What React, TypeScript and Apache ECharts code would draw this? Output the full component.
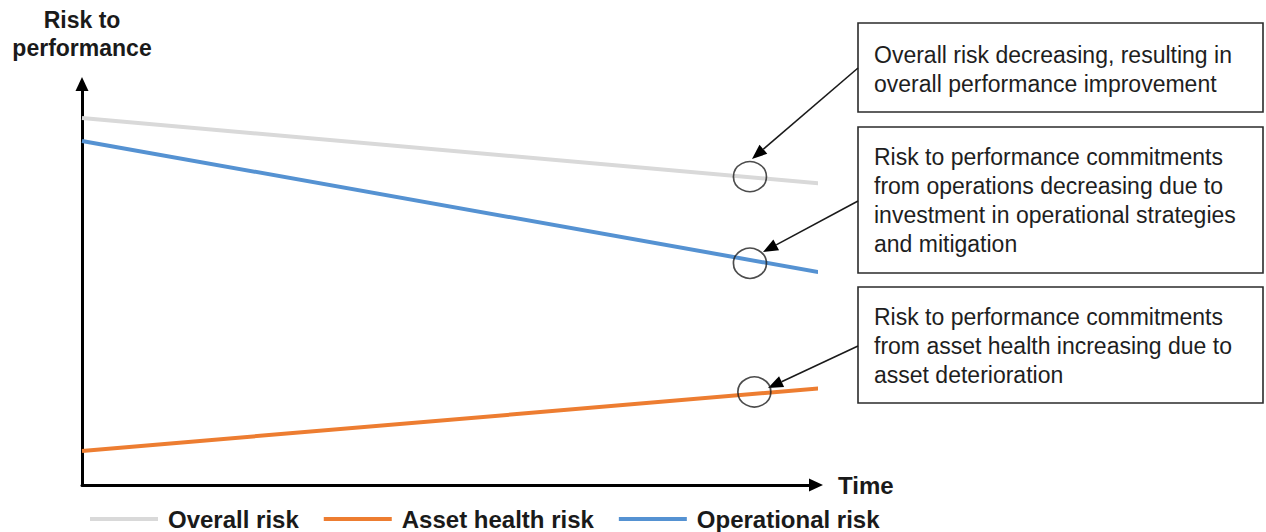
import React, { useEffect, useRef } from "react";
import * as echarts from "echarts";

const seriesNames = ["Overall risk", "Asset health risk", "Operational risk"];
const seriesColors = ["#d9d9d9", "#ed7d31", "#5592d2"];
// [time, risk] pairs
const overallRisk = [[0, 91.5], [10.12, 75.1]];
const assetHealthRisk = [[0, 8.5], [10.12, 24.2]];
const operationalRisk = [[0, 85.8], [10.03, 53.1]];

// highlighted points on each line
const circleX = [9.1, 9.1, 9.16];
const circleY = [76.9, 55.3, 23.2];

const notes = [
  "Overall risk decreasing, resulting in\noverall performance improvement",
  "Risk to performance commitments\nfrom operations decreasing due to\ninvestment in operational strategies\nand mitigation",
  "Risk to performance commitments\nfrom asset health increasing due to\nasset deterioration",
];

const FONT = '"Liberation Sans", Arial, Helvetica, sans-serif';

function arrow(x1: number, y1: number, x2: number, y2: number) {
  const dx = x2 - x1;
  const dy = y2 - y1;
  const len = Math.sqrt(dx * dx + dy * dy);
  const ux = dx / len;
  const uy = dy / len;
  const L = 15;
  const W = 12;
  const bx = x2 - ux * L;
  const by = y2 - uy * L;
  const nx = -uy;
  const ny = ux;
  return [
    {
      type: "line",
      shape: { x1, y1, x2: bx, y2: by },
      style: { stroke: "#1a1a1a", lineWidth: 1.6 },
      silent: true,
    },
    {
      type: "polygon",
      shape: {
        points: [
          [x2, y2],
          [bx + (nx * W) / 2, by + (ny * W) / 2],
          [bx - (nx * W) / 2, by - (ny * W) / 2],
        ],
      },
      style: { fill: "#000" },
      silent: true,
    },
  ];
}

function box(x: number, y: number, w: number, h: number, text: string, textTop: number) {
  return [
    {
      type: "rect",
      shape: { x, y, width: w, height: h },
      style: { fill: "#fff", stroke: "#2b2b2b", lineWidth: 1.6 },
      silent: true,
    },
    {
      type: "text",
      x: x + 16,
      y: textTop,
      style: {
        text,
        fontFamily: FONT,
        fontSize: 23,
        lineHeight: 29,
        fill: "#1e1e1e",
        verticalAlign: "top",
        align: "left",
      },
      silent: true,
    },
  ];
}

export default function App() {
  const ref = useRef<HTMLDivElement>(null);
  useEffect(() => {
    if (!ref.current) return;
    const chart = echarts.init(ref.current, undefined, { renderer: "svg" });
    const datasets = [overallRisk, assetHealthRisk, operationalRisk];
    const option: any = {
      animation: false,
      backgroundColor: "#fff",
      textStyle: { fontFamily: FONT },
      grid: { left: 82, right: 450, top: 84, bottom: 47 },
      legend: {
        data: seriesNames,
        left: 85,
        top: 502,
        icon: "rect",
        itemWidth: 68,
        itemHeight: 4,
        itemGap: 25,
        textStyle: {
          fontFamily: FONT,
          fontSize: 24,
          fontWeight: "bold",
          color: "#1a1a1a",
          padding: [0, 0, 0, 5],
        },
      },
      xAxis: {
        type: "value",
        min: 0,
        max: 10,
        name: "Time",
        nameLocation: "end",
        nameGap: 22,
        nameTextStyle: { fontFamily: FONT, fontSize: 24, fontWeight: "bold", color: "#1a1a1a" },
        axisLine: {
          show: true,
          symbol: ["none", "triangle"],
          symbolSize: [13, 14],
          lineStyle: { color: "#000", width: 3 },
        },
        axisTick: { show: false },
        axisLabel: { show: false },
        splitLine: { show: false },
      },
      yAxis: {
        type: "value",
        min: 0,
        max: 100,
        name: "Risk to\nperformance",
        nameLocation: "end",
        nameGap: 22,
        nameTextStyle: {
          fontFamily: FONT,
          fontSize: 23,
          fontWeight: "bold",
          color: "#1a1a1a",
          lineHeight: 28,
          align: "center",
        },
        axisLine: {
          show: true,
          symbol: ["none", "triangle"],
          symbolSize: [13, 14],
          lineStyle: { color: "#000", width: 3 },
        },
        axisTick: { show: false },
        axisLabel: { show: false },
        splitLine: { show: false },
      },
      series: [
        ...seriesNames.map((name, i) => ({
          name,
          type: "line",
          data: datasets[i],
          showSymbol: false,
          clip: false,
          lineStyle: { width: 4, color: seriesColors[i] },
          itemStyle: { color: seriesColors[i] },
          z: 2,
        })),
        {
          name: "highlight",
          type: "scatter",
          data: circleX.map((x, i) => [x, circleY[i]]),
          symbol: "circle",
          symbolSize: [33, 30],
          itemStyle: { color: "rgba(0,0,0,0)", borderColor: "#1f1f1f", borderWidth: 1.6 },
          clip: false,
          z: 3,
          silent: true,
        },
      ],
      graphic: [
        ...box(858, 23, 405, 89, notes[0], 40),
        ...box(858, 127, 405, 146, notes[1], 142),
        ...box(858, 287, 405, 116, notes[2], 302),
        ...arrow(858, 68, 752, 159),
        ...arrow(858, 201, 763, 252),
        ...arrow(858, 346, 768, 388),
      ],
    };
    chart.setOption(option);
    return () => chart.dispose();
  }, []);
  return (
    <div
      ref={ref}
      style={{ position: "fixed", left: 0, top: 0, width: 1266, height: 532, background: "#fff" }}
    />
  );
}
